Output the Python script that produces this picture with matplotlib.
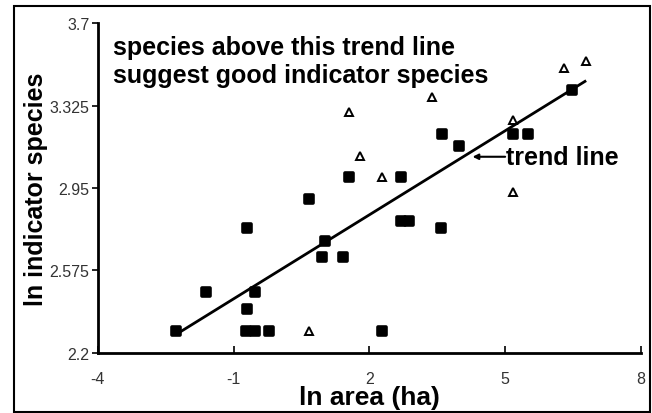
import matplotlib
matplotlib.use('Agg')
import matplotlib.pyplot as plt
from matplotlib.markers import MarkerStyle
from matplotlib.patches import Rectangle

plt.rcParams['font.family'] = ['Liberation Sans', 'DejaVu Sans']

# filled squares
sq_x = [-2.28, -1.62, -0.70, -0.70, -0.53, -0.72, -0.53, -0.22, 0.66, 1.01,
        0.96, 1.41, 2.28, 2.69, 2.87, 3.59, 1.55, 2.70, 3.60, 3.99,
        5.18, 5.50, 6.48]
sq_y = [2.30, 2.479, 2.768, 2.40, 2.479, 2.30, 2.30, 2.30, 2.90, 2.71,
        2.638, 2.638, 2.30, 2.80, 2.80, 2.768, 3.00, 3.00, 3.194, 3.14,
        3.194, 3.194, 3.397]

# open triangles
tri_x = [0.66, 1.55, 1.80, 2.28, 3.39, 5.18, 5.18, 6.29, 6.79]
tri_y = [2.30, 3.294, 3.094, 3.00, 3.365, 3.259, 2.93, 3.494, 3.526]

# trend line end points
trend_x = [-2.28, 6.79]
trend_y = [2.283, 3.438]

x_ticks = [-4, -1, 2, 5, 8]
y_ticks = [2.2, 2.575, 2.95, 3.325, 3.7]

fig = plt.figure(figsize=(6.52, 4.14), dpi=100)
ax = fig.add_axes([0.150, 0.145, 0.833, 0.797])

ax.plot(trend_x, trend_y, color='black', lw=2, solid_capstyle='butt', zorder=2)
ax.plot(sq_x, sq_y, ls='none', marker=MarkerStyle('s', joinstyle='round'),
        ms=5.8, mfc='black', mec='black', mew=2.6, zorder=3)
ax.plot(tri_x, tri_y, ls='none', marker='^', ms=6, mfc='white', mec='black',
        mew=1.4, zorder=3)

ax.set_xlim(-4, 8)
ax.set_ylim(2.2, 3.7)
ax.set_xticks(x_ticks)
ax.set_xticklabels([str(t) for t in x_ticks])
ax.set_yticks(y_ticks)
ax.set_yticklabels(['2.2', '2.575', '2.95', '3.325', '3.7'])

for s in ['top', 'right']:
    ax.spines[s].set_visible(False)
for s in ['left', 'bottom']:
    ax.spines[s].set_linewidth(2)

ax.tick_params(axis='x', direction='in', length=5, width=1.2, pad=13,
               labelsize=11.5, labelcolor='#333333')
ax.tick_params(axis='y', direction='out', length=4, width=1.2, pad=2,
               labelsize=11.5, labelcolor='#333333')

ax.set_xlabel('ln area (ha)', fontsize=19, fontweight='bold', labelpad=-1)
ax.set_ylabel('ln indicator species', fontsize=18, fontweight='bold', labelpad=1)

ax.text(-3.67, 3.59, 'species above this trend line', fontsize=18,
        fontweight='bold', va='center', ha='left')
ax.text(-3.67, 3.464, 'suggest good indicator species', fontsize=18,
        fontweight='bold', va='center', ha='left')

ax.annotate('', xy=(4.28, 3.092), xytext=(5.0, 3.092),
            arrowprops=dict(arrowstyle='-|>', color='black', lw=1.5,
                            mutation_scale=8, shrinkA=0, shrinkB=0))
ax.text(5.02, 3.092, 'trend line', fontsize=18, fontweight='bold',
        va='center', ha='left')

fig.patches.append(Rectangle((0.022, 0.002), 0.975, 0.981, transform=fig.transFigure,
                             fill=False, edgecolor='black', lw=1.5))

fig.savefig('out.png', dpi=100)
